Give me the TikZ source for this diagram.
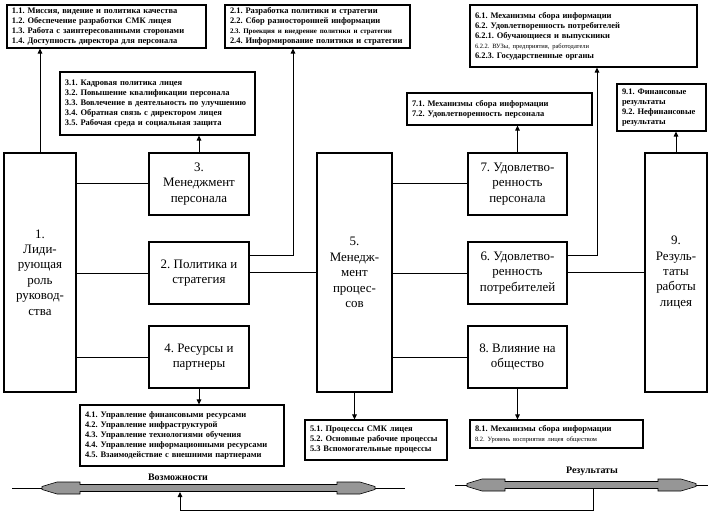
\documentclass[tikz,border=0pt]{standalone}
\usepackage{fontspec}
\setmainfont{Liberation Serif}
\usepackage{xcolor}
\definecolor{bandgrey}{HTML}{969696}
\usepackage{tikz}
\usetikzlibrary{arrows.meta}
\frenchspacing
% wide grey double band: from, to, y, thin tail
\newcommand{\bandarrow}[4]{%
  \draw[line width=0.8bp] (#1,#3) -- (#2,#3);
  \draw[fill=bandgrey,line width=0.6bp] ({#1+#4},{#3-1.5}) -- ({#1+#4+15},{#3-6}) -- ({#1+#4+38},{#3-6}) -- ({#1+#4+38},{#3-3.5})
    -- ({#2-#4-38},{#3-3.5}) -- ({#2-#4-38},{#3-6}) -- ({#2-#4-15},{#3-6}) -- ({#2-#4},{#3-1.5})
    -- ({#2-#4},{#3+1.5}) -- ({#2-#4-15},{#3+6}) -- ({#2-#4-38},{#3+6}) -- ({#2-#4-38},{#3+3.5})
    -- ({#1+#4+38},{#3+3.5}) -- ({#1+#4+38},{#3+6}) -- ({#1+#4+15},{#3+6}) -- ({#1+#4},{#3+1.5}) -- cycle;}

\begin{document}
\begin{tikzpicture}[x=1bp,y=-1bp,>={Triangle[length=5bp,width=4.5bp]},
  bigbox/.style={draw,line width=1.6bp,align=center,inner sep=2bp,font=\fontsize{13}{15.5}\selectfont},
  listbox/.style={draw,line width=1.1bp,align=left,inner xsep=5bp,inner ysep=1bp,font=\fontsize{8.5}{10}\selectfont\bfseries},
  link/.style={line width=1bp},
  bandlabel/.style={font=\fontsize{10}{12}\selectfont\bfseries}]
\useasboundingbox (0,0) rectangle (708,520);

% main criteria
\node[bigbox,minimum width=72bp,minimum height=239bp] (b1) at (40,272.5) {1.\\Лиди-\\рующая\\роль\\руковод-\\ства};
\node[bigbox,minimum width=100bp,minimum height=62bp] (b3) at (199,184) {3.\\Менеджмент\\персонала};
\node[bigbox,minimum width=100bp,minimum height=62bp] (b2) at (199,273) {2. Политика и\\стратегия};
\node[bigbox,minimum width=100bp,minimum height=62bp] (b4) at (199,357) {4. Ресурсы и\\партнеры};
\node[bigbox,minimum width=75bp,minimum height=239bp] (b5) at (354.5,272.5) {5.\\Менедж-\\мент\\процес-\\сов};
\node[bigbox,minimum width=99bp,minimum height=62bp] (b7) at (517.5,184) {7. Удовлетво-\\ренность\\персонала};
\node[bigbox,minimum width=99bp,minimum height=62bp] (b6) at (517.5,273) {6. Удовлетво-\\ренность\\потребителей};
\node[bigbox,minimum width=99bp,minimum height=62bp] (b8) at (517.5,357) {8. Влияние на\\общество};
\node[bigbox,minimum width=62bp,minimum height=239bp] (b9) at (676,272.5) {9.\\Резуль-\\таты\\работы\\лицея};

% sub-criteria lists
\node[listbox,text width=189bp,minimum height=43bp] (t1) at (106.5,26.5) {1.1. Миссия, видение и политика качества\\1.2. Обеспечение разработки СМК лицея\\1.3. Работа с заинтересованными сторонами\\1.4. Доступность директора для персонала};
\node[listbox,text width=175bp,minimum height=43bp] (t2) at (317.5,26.5) {2.1. Разработка политики и стратегии\\2.2. Сбор разносторонней информации\\{\fontsize{7}{10}\selectfont 2.3. Проекция и внедрение политики и стратегии}\\2.4. Информирование политики и стратегии};
\node[listbox,text width=217bp,minimum height=62bp] (t6) at (583.5,36) {6.1. Механизмы сбора информации\\6.2. Удовлетворенность потребителей\\6.2.1. Обучающиеся и выпускники\\{\fontsize{6.5}{10}\selectfont\mdseries 6.2.2. ВУЗы, предприятия, работодатели}\\6.2.3. Государственные органы};
\node[listbox,text width=185bp,minimum height=63bp] (t3) at (157.5,103.5) {3.1. Кадровая политика лицея\\3.2. Повышение квалификации персонала\\3.3. Вовлечение в деятельность по улучшению\\3.4. Обратная связь с директором лицея\\3.5. Рабочая среда и социальная защита};
\node[listbox,text width=175bp,minimum height=32bp] (t7) at (499.5,109) {7.1. Механизмы сбора информации\\7.2. Удовлетворенность персонала};
\node[listbox,text width=79bp,minimum height=47bp] (t9) at (661.5,107.5) {9.1. Финансовые\\результаты\\9.2. Нефинансовые\\результаты};
\node[listbox,text width=194bp,minimum height=61bp] (t4) at (182,435.5) {4.1. Управление финансовыми ресурсами\\4.2. Управление инфраструктурой\\4.3. Управление технологиями обучения\\4.4. Управление информационными ресурсами\\4.5. Взаимодействие с внешними партнерами};
\node[listbox,text width=132bp,minimum height=40bp] (t5) at (376,440) {5.1. Процессы СМК лицея\\5.2. Основные рабочие процессы\\5.3 Вспомогательные процессы};
\node[listbox,text width=163bp,minimum height=28bp] (t8) at (556.5,434) {8.1. Механизмы сбора информации\\{\fontsize{6.5}{10}\selectfont\mdseries 8.2. Уровень восприятия лицея обществом}};

% links between criteria
\foreach \a/\b in {b1/b3,b1/b2,b1/b4,b3/b5,b2/b5,b4/b5,b5/b7,b5/b6,b5/b8,b7/b9,b6/b9,b8/b9}
  \draw[link] (\a.east |- \b) -- (\b.west);

% links to the lists
\coordinate (k2) at (293,256);
\coordinate (k6) at (597,256);
\draw[link,->] (b1.north) -- (b1.north |- t1.south);
\draw[link,->] (b3.north) -- (b3.north |- t3.south);
\draw[link,->] (b2.east |- k2) -- (k2) -- (k2 |- t2.south);
\draw[link,->] (b7.north) -- (b7.north |- t7.south);
\draw[link,->] (b6.east |- k6) -- (k6) -- (k6 |- t6.south);
\draw[link,->] (b9.north) -- (b9.north |- t9.south);
\draw[link,->] (b4.south) -- (b4.south |- t4.north);
\draw[link,->] (b5.south) -- (b5.south |- t5.north);
\draw[link,->] (b8.south) -- (b8.south |- t8.north);

% bottom bands
\bandarrow{12}{405}{488}{30}
\bandarrow{455}{708}{485}{12}
\node[bandlabel] (opp) at (178,477) {Возможности};
\node[bandlabel] (res) at (592,471) {Результаты};
\coordinate (rband) at (593,489);
\coordinate (lband) at (180,492);
\draw[link,->] (rband) -- ++(0,21) -| (lband);
\end{tikzpicture}
\end{document}
